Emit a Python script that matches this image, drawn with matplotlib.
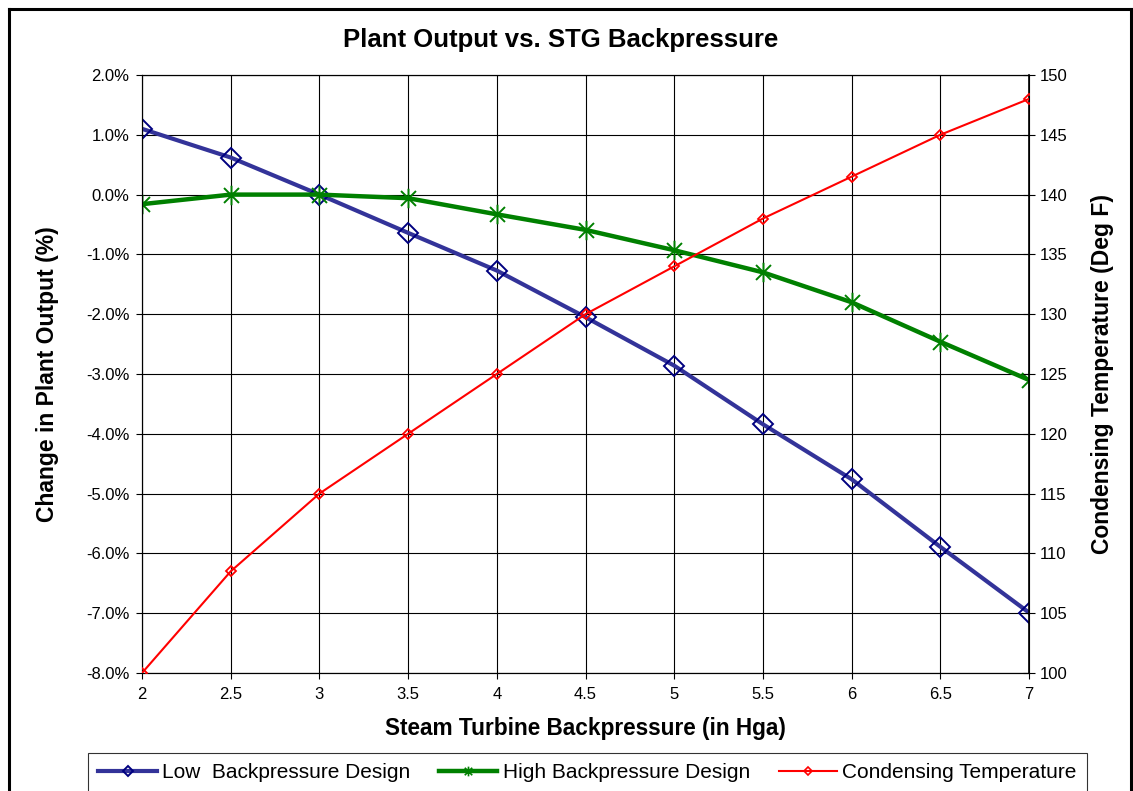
import matplotlib
matplotlib.use("Agg")
import matplotlib.pyplot as plt
from matplotlib.path import Path
from matplotlib.lines import Line2D
from matplotlib.ticker import FuncFormatter, FixedLocator

plt.rcParams['font.family'] = ['Liberation Sans', 'DejaVu Sans']

backpressure = [2, 2.5, 3, 3.5, 4, 4.5, 5, 5.5, 6, 6.5, 7]
low_design = [1.10, 0.62, 0.00, -0.64, -1.27, -2.05, -2.86, -3.84, -4.76, -5.89, -6.99]
high_design = [-0.16, 0.00, 0.00, -0.06, -0.33, -0.59, -0.93, -1.30, -1.80, -2.46, -3.10]
cond_temp = [100.0, 108.5, 115.0, 120.0, 125.0, 130.0, 134.0, 138.0, 141.5, 145.0, 148.0]

x_ticks = [2, 2.5, 3, 3.5, 4, 4.5, 5, 5.5, 6, 6.5, 7]
x_tick_labels = ["2", "2.5", "3", "3.5", "4", "4.5", "5", "5.5", "6", "6.5", "7"]
left_ticks = [-8, -7, -6, -5, -4, -3, -2, -1, 0, 1, 2]
right_ticks = [100, 105, 110, 115, 120, 125, 130, 135, 140, 145, 150]

series_names = ["Low  Backpressure Design", "High Backpressure Design", "Condensing Temperature"]

W, H = 1133, 791
fig = plt.figure(figsize=(W / 100, H / 100), dpi=100)

L, R, T, B = 142, 1029, 75, 673
ax = fig.add_axes([L / W, 1 - B / H, (R - L) / W, (B - T) / H])
ax2 = ax.twinx()

# asterisk marker (X plus vertical line)
ast = Path([(-1, -1), (1, 1), (-1, 1), (1, -1), (0, -1.3), (0, 1.3)],
           [Path.MOVETO, Path.LINETO, Path.MOVETO, Path.LINETO, Path.MOVETO, Path.LINETO])

blue_line = '#333399'
blue_mk = '#000080'
green = '#008000'
red = '#FF0000'

l1, = ax.plot(backpressure, low_design, color=blue_line, lw=3.0, marker='D', ms=10,
              mfc='none', mec=blue_mk, mew=1.4, zorder=3)
l2, = ax.plot(backpressure, high_design, color=green, lw=3.2, marker=ast, ms=14,
              mfc='none', mec=green, mew=1.4, zorder=3)
l3, = ax2.plot(backpressure, cond_temp, color=red, lw=1.5, marker='D', ms=5.5,
               mfc='none', mec=red, mew=1.3, zorder=3)

ax.set_xlim(2, 7)
ax.set_ylim(-8, 2)
ax2.set_ylim(100, 150)

ax.xaxis.set_major_locator(FixedLocator(x_ticks))
ax.set_xticklabels(x_tick_labels)
ax.yaxis.set_major_locator(FixedLocator(left_ticks))
ax.yaxis.set_major_formatter(FuncFormatter(lambda v, p: f"{v:.1f}%"))
ax2.yaxis.set_major_locator(FixedLocator(right_ticks))
ax2.yaxis.set_major_formatter(FuncFormatter(lambda v, p: f"{int(v)}"))

ax.grid(True, color='black', lw=0.8)
ax.set_axisbelow(True)

ax.tick_params(axis='x', direction='out', length=4, width=0.8, labelsize=12, pad=6)
ax.tick_params(axis='y', direction='out', length=4, width=0.8, labelsize=12, pad=5)
ax2.tick_params(axis='y', direction='inout', length=9, width=0.8, labelsize=12, pad=3)

for a in (ax, ax2):
    for s in a.spines.values():
        s.set_color('black')
        s.set_linewidth(0.8)
ax2.spines['right'].set_linewidth(1.2)

ax.set_xlabel("Steam Turbine Backpressure (in Hga)", fontsize=16.3, fontweight='bold')
ax.set_ylabel("Change in Plant Output (%)", fontsize=16.5, fontweight='bold')
ax2.set_ylabel("Condensing Temperature (Deg F)", fontsize=16.5, fontweight='bold')
ax.xaxis.set_label_coords(0.5, -(729 - B) / (B - T))
ax.xaxis.label.set_va('center')
ax.yaxis.set_label_coords((48 - L) / (R - L), 0.5)
ax.yaxis.label.set_va('center')
ax2.yaxis.set_label_coords((1102 - L) / (R - L), 0.5)
ax2.yaxis.label.set_va('center')

fig.text(561 / W, 1 - 40 / H, "Plant Output vs. STG Backpressure", ha='center', va='center',
         fontsize=18.5, fontweight='bold')

h1 = Line2D([], [], color=blue_line, lw=3.0, marker='D', ms=5, mfc='none', mec=blue_mk, mew=1.4)
h2 = Line2D([], [], color=green, lw=3.2, marker=ast, ms=7, mfc='none', mec=green, mew=1.2)
h3 = Line2D([], [], color=red, lw=1.5, marker='D', ms=4.5, mfc='none', mec=red, mew=1.2)

leg = fig.legend([h1, h2, h3], series_names, loc='upper left',
                 bbox_to_anchor=(88 / W, 0, (1087 - 88) / W, 1 - 753 / H), mode='expand',
                 ncol=3, fontsize=15, frameon=True, fancybox=False, edgecolor='black',
                 handlelength=2.8, handletextpad=0.25, columnspacing=1.0, borderaxespad=0,
                 borderpad=0.5)
leg.get_frame().set_linewidth(0.8)

# figure border
fig.add_artist(Line2D([9 / W, 9 / W], [0, 1 - 9 / H], transform=fig.transFigure, color='black', lw=2.2))
fig.add_artist(Line2D([9 / W, 1131 / W], [1 - 9 / H, 1 - 9 / H], transform=fig.transFigure, color='black', lw=2.2))
fig.add_artist(Line2D([1131 / W, 1131 / W], [0, 1 - 9 / H], transform=fig.transFigure, color='black', lw=2.2))

fig.savefig("out.png", dpi=100)
